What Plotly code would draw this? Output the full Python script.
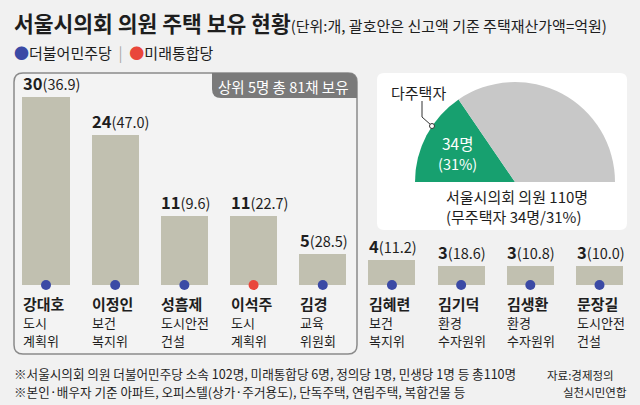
import plotly.graph_objects as go

# ---------------- data ----------------
names = ["강대호", "이정인", "성흠제", "이석주", "김경", "김혜련", "김기덕", "김생환", "문장길"]
houses = [30, 24, 11, 11, 5, 4, 3, 3, 3]
values = ["36.9", "47.0", "9.6", "22.7", "28.5", "11.2", "18.6", "10.8", "10.0"]
committee1 = ["도시", "보건", "도시안전", "도시", "교육", "보건", "환경", "환경", "도시안전"]
committee2 = ["계획위", "복지위", "건설", "계획위", "위원회", "복지위", "수자원위", "수자원위", "건설"]
party = ["민주", "민주", "민주", "통합", "민주", "민주", "민주", "민주", "민주"]

pie_labels = ["다주택자", "기타", ""]
pie_values = [34, 76, 110]

W, H = 640, 405
FONT = "Noto Sans CJK KR"
BG = "#f1f1f1"
BAR = "#c1c0b0"
BLUE = "#3b4aa5"
RED = "#e9473b"
GREEN = "#17a06f"
GRAY = "#c8c8c8"
TXT = "#1e1e1e"


def px(x):
    return x / W


def py(y):
    return 1 - y / H


def rrect(x0, y0, x1, y1, r, tl=True, tr=True, br=True, bl=True):
    rx, ry = r / W, r / H
    X0, X1 = px(x0), px(x1)
    Y0, Y1 = py(y0), py(y1)  # Y0 top, Y1 bottom
    p = []
    p.append(f"M {X0 + (rx if tl else 0)},{Y0}")
    if tr:
        p.append(f"L {X1 - rx},{Y0} Q {X1},{Y0} {X1},{Y0 - ry}")
    else:
        p.append(f"L {X1},{Y0}")
    if br:
        p.append(f"L {X1},{Y1 + ry} Q {X1},{Y1} {X1 - rx},{Y1}")
    else:
        p.append(f"L {X1},{Y1}")
    if bl:
        p.append(f"L {X0 + rx},{Y1} Q {X0},{Y1} {X0},{Y1 + ry}")
    else:
        p.append(f"L {X0},{Y1}")
    if tl:
        p.append(f"L {X0},{Y0 - ry} Q {X0},{Y0} {X0 + rx},{Y0}")
    else:
        p.append(f"L {X0},{Y0}")
    p.append("Z")
    return " ".join(p)


fig = go.Figure()

fig.add_trace(go.Bar(
    x=names, y=houses, marker=dict(color=BAR, line=dict(width=0)),
    width=0.68, hoverinfo="skip", showlegend=False,
))
fig.add_trace(go.Scatter(
    x=names, y=[0] * len(names), mode="markers",
    marker=dict(size=10, color=[RED if p == "통합" else BLUE for p in party], line=dict(width=0)),
    cliponaxis=False, hoverinfo="skip", showlegend=False,
))

fig.add_trace(go.Pie(
    labels=pie_labels, values=pie_values, sort=False, direction="clockwise", rotation=270,
    marker=dict(colors=[GREEN, GRAY, "rgba(0,0,0,0)"], line=dict(width=0)),
    textinfo="none", hoverinfo="skip", showlegend=False,
    domain=dict(x=[px(415), px(615)], y=[py(282), py(82)]),
))

ann = []
shapes = []

# box and card
shapes.append(dict(type="path", path=rrect(14, 73, 357, 354, 9), xref="paper", yref="paper",
                   line=dict(color="#8a8a8a", width=1.5), fillcolor="#f3f3f3", layer="below"))
shapes.append(dict(type="path", path=rrect(212, 73, 357, 98, 9, tl=False, br=False), xref="paper", yref="paper",
                   line=dict(width=0), fillcolor="#7a7a7a", layer="below"))
shapes.append(dict(type="path", path=rrect(377, 73, 627, 230, 7), xref="paper", yref="paper",
                   line=dict(width=0), fillcolor="#ffffff", layer="below"))

ann.append(dict(x=px(351), y=py(86), xref="paper", yref="paper", xanchor="right", yanchor="middle",
                text="상위 5명 총 81채 보유", showarrow=False, font=dict(size=14.5, color="white", family=FONT)))

for i, n in enumerate(names):
    ann.append(dict(x=n, y=houses[i], xref="x", yref="y", xanchor="left", yanchor="bottom",
                    xshift=-25, yshift=0,
                    text=f"<b>{houses[i]}</b><span style='font-size:14.5px'>({values[i]})</span>",
                    showarrow=False, font=dict(size=16.5, color=TXT, family=FONT)))
    ann.append(dict(x=n, y=py(303), xref="x", yref="paper", xanchor="left", yanchor="middle", xshift=-25,
                    text=f"<b>{n}</b>", showarrow=False, font=dict(size=15, color=TXT, family=FONT)))
    ann.append(dict(x=n, y=py(322), xref="x", yref="paper", xanchor="left", yanchor="middle", xshift=-25,
                    text=committee1[i], showarrow=False, font=dict(size=13, color=TXT, family=FONT)))
    ann.append(dict(x=n, y=py(340), xref="x", yref="paper", xanchor="left", yanchor="middle", xshift=-25,
                    text=committee2[i], showarrow=False, font=dict(size=13, color=TXT, family=FONT)))

# title
ann.append(dict(x=px(12), y=py(22), xref="paper", yref="paper", xanchor="left", yanchor="middle",
                text="<b>서울시의회 의원 주택 보유 현황</b><span style='font-size:15px'>(단위:개, 괄호안은 신고액 기준 주택재산가액=억원)</span>",
                showarrow=False, font=dict(size=21.5, color=TXT, family=FONT)))
# legend
ann.append(dict(x=px(12), y=py(52), xref="paper", yref="paper", xanchor="left", yanchor="middle",
                text=f"<span style='color:{BLUE}'>●</span>더불어민주당 <span style='color:#aaaaaa'> | </span> <span style='color:{RED}'>●</span>미래통합당",
                showarrow=False, font=dict(size=15, color=TXT, family=FONT)))

# pie labels
ann.append(dict(x=px(389), y=py(92), xref="paper", yref="paper", xanchor="left", yanchor="middle",
                text="다주택자", showarrow=False, font=dict(size=15, color=TXT, family=FONT)))
shapes.append(dict(type="path", xref="paper", yref="paper", line=dict(color="#333333", width=1),
                   path=f"M {px(422)},{py(101)} L {px(422)},{py(117)} L {px(431)},{py(125)}"))
shapes.append(dict(type="circle", xref="paper", yref="paper", x0=px(429.5), x1=px(434.5), y0=py(128.5), y1=py(123.5),
                   line=dict(color="#333333", width=1), fillcolor="white"))
ann.append(dict(x=px(457), y=py(143), xref="paper", yref="paper", xanchor="center", yanchor="middle",
                text="34명", showarrow=False, font=dict(size=15.5, color="white", family=FONT)))
ann.append(dict(x=px(457), y=py(163), xref="paper", yref="paper", xanchor="center", yanchor="middle",
                text="(31%)", showarrow=False, font=dict(size=14.5, color="white", family=FONT)))
ann.append(dict(x=px(517), y=py(196), xref="paper", yref="paper", xanchor="center", yanchor="middle",
                text="서울시의회 의원 110명", showarrow=False, font=dict(size=15, color=TXT, family=FONT)))
ann.append(dict(x=px(514), y=py(216), xref="paper", yref="paper", xanchor="center", yanchor="middle",
                text="(무주택자 34명/31%)", showarrow=False, font=dict(size=15, color=TXT, family=FONT)))

# footnotes
ann.append(dict(x=px(12), y=py(373), xref="paper", yref="paper", xanchor="left", yanchor="middle",
                text="※서울시의회 의원 더불어민주당 소속 102명, 미래통합당 6명, 정의당 1명, 민생당 1명 등 총110명",
                showarrow=False, font=dict(size=12.6, color=TXT, family=FONT)))
ann.append(dict(x=px(12), y=py(391), xref="paper", yref="paper", xanchor="left", yanchor="middle",
                text="※본인·배우자 기준 아파트, 오피스텔(상가·주거용도), 단독주택, 연립주택, 복합건물 등",
                showarrow=False, font=dict(size=12.6, color=TXT, family=FONT)))
ann.append(dict(x=px(545), y=py(375), xref="paper", yref="paper", xanchor="left", yanchor="middle",
                text="자료:경제정의", showarrow=False, font=dict(size=11.5, color=TXT, family=FONT)))
ann.append(dict(x=px(629), y=py(392), xref="paper", yref="paper", xanchor="right", yanchor="middle",
                text="실천시민연합", showarrow=False, font=dict(size=11.5, color=TXT, family=FONT)))

fig.update_layout(
    width=W, height=H, margin=dict(l=0, r=0, t=0, b=0),
    paper_bgcolor=BG, plot_bgcolor="rgba(0,0,0,0)",
    font=dict(family=FONT, color=TXT),
    xaxis=dict(type="category", range=[-0.665, 8.585], domain=[0, 1], visible=False, fixedrange=True),
    yaxis=dict(range=[0, 30], domain=[py(285), py(97)], visible=False, fixedrange=True),
    annotations=ann, shapes=shapes, bargap=0, showlegend=False,
)

fig.write_html("out.html", config={"displayModeBar": False},
               post_script="document.body.style.margin='0';document.body.style.background='#f1f1f1';")
